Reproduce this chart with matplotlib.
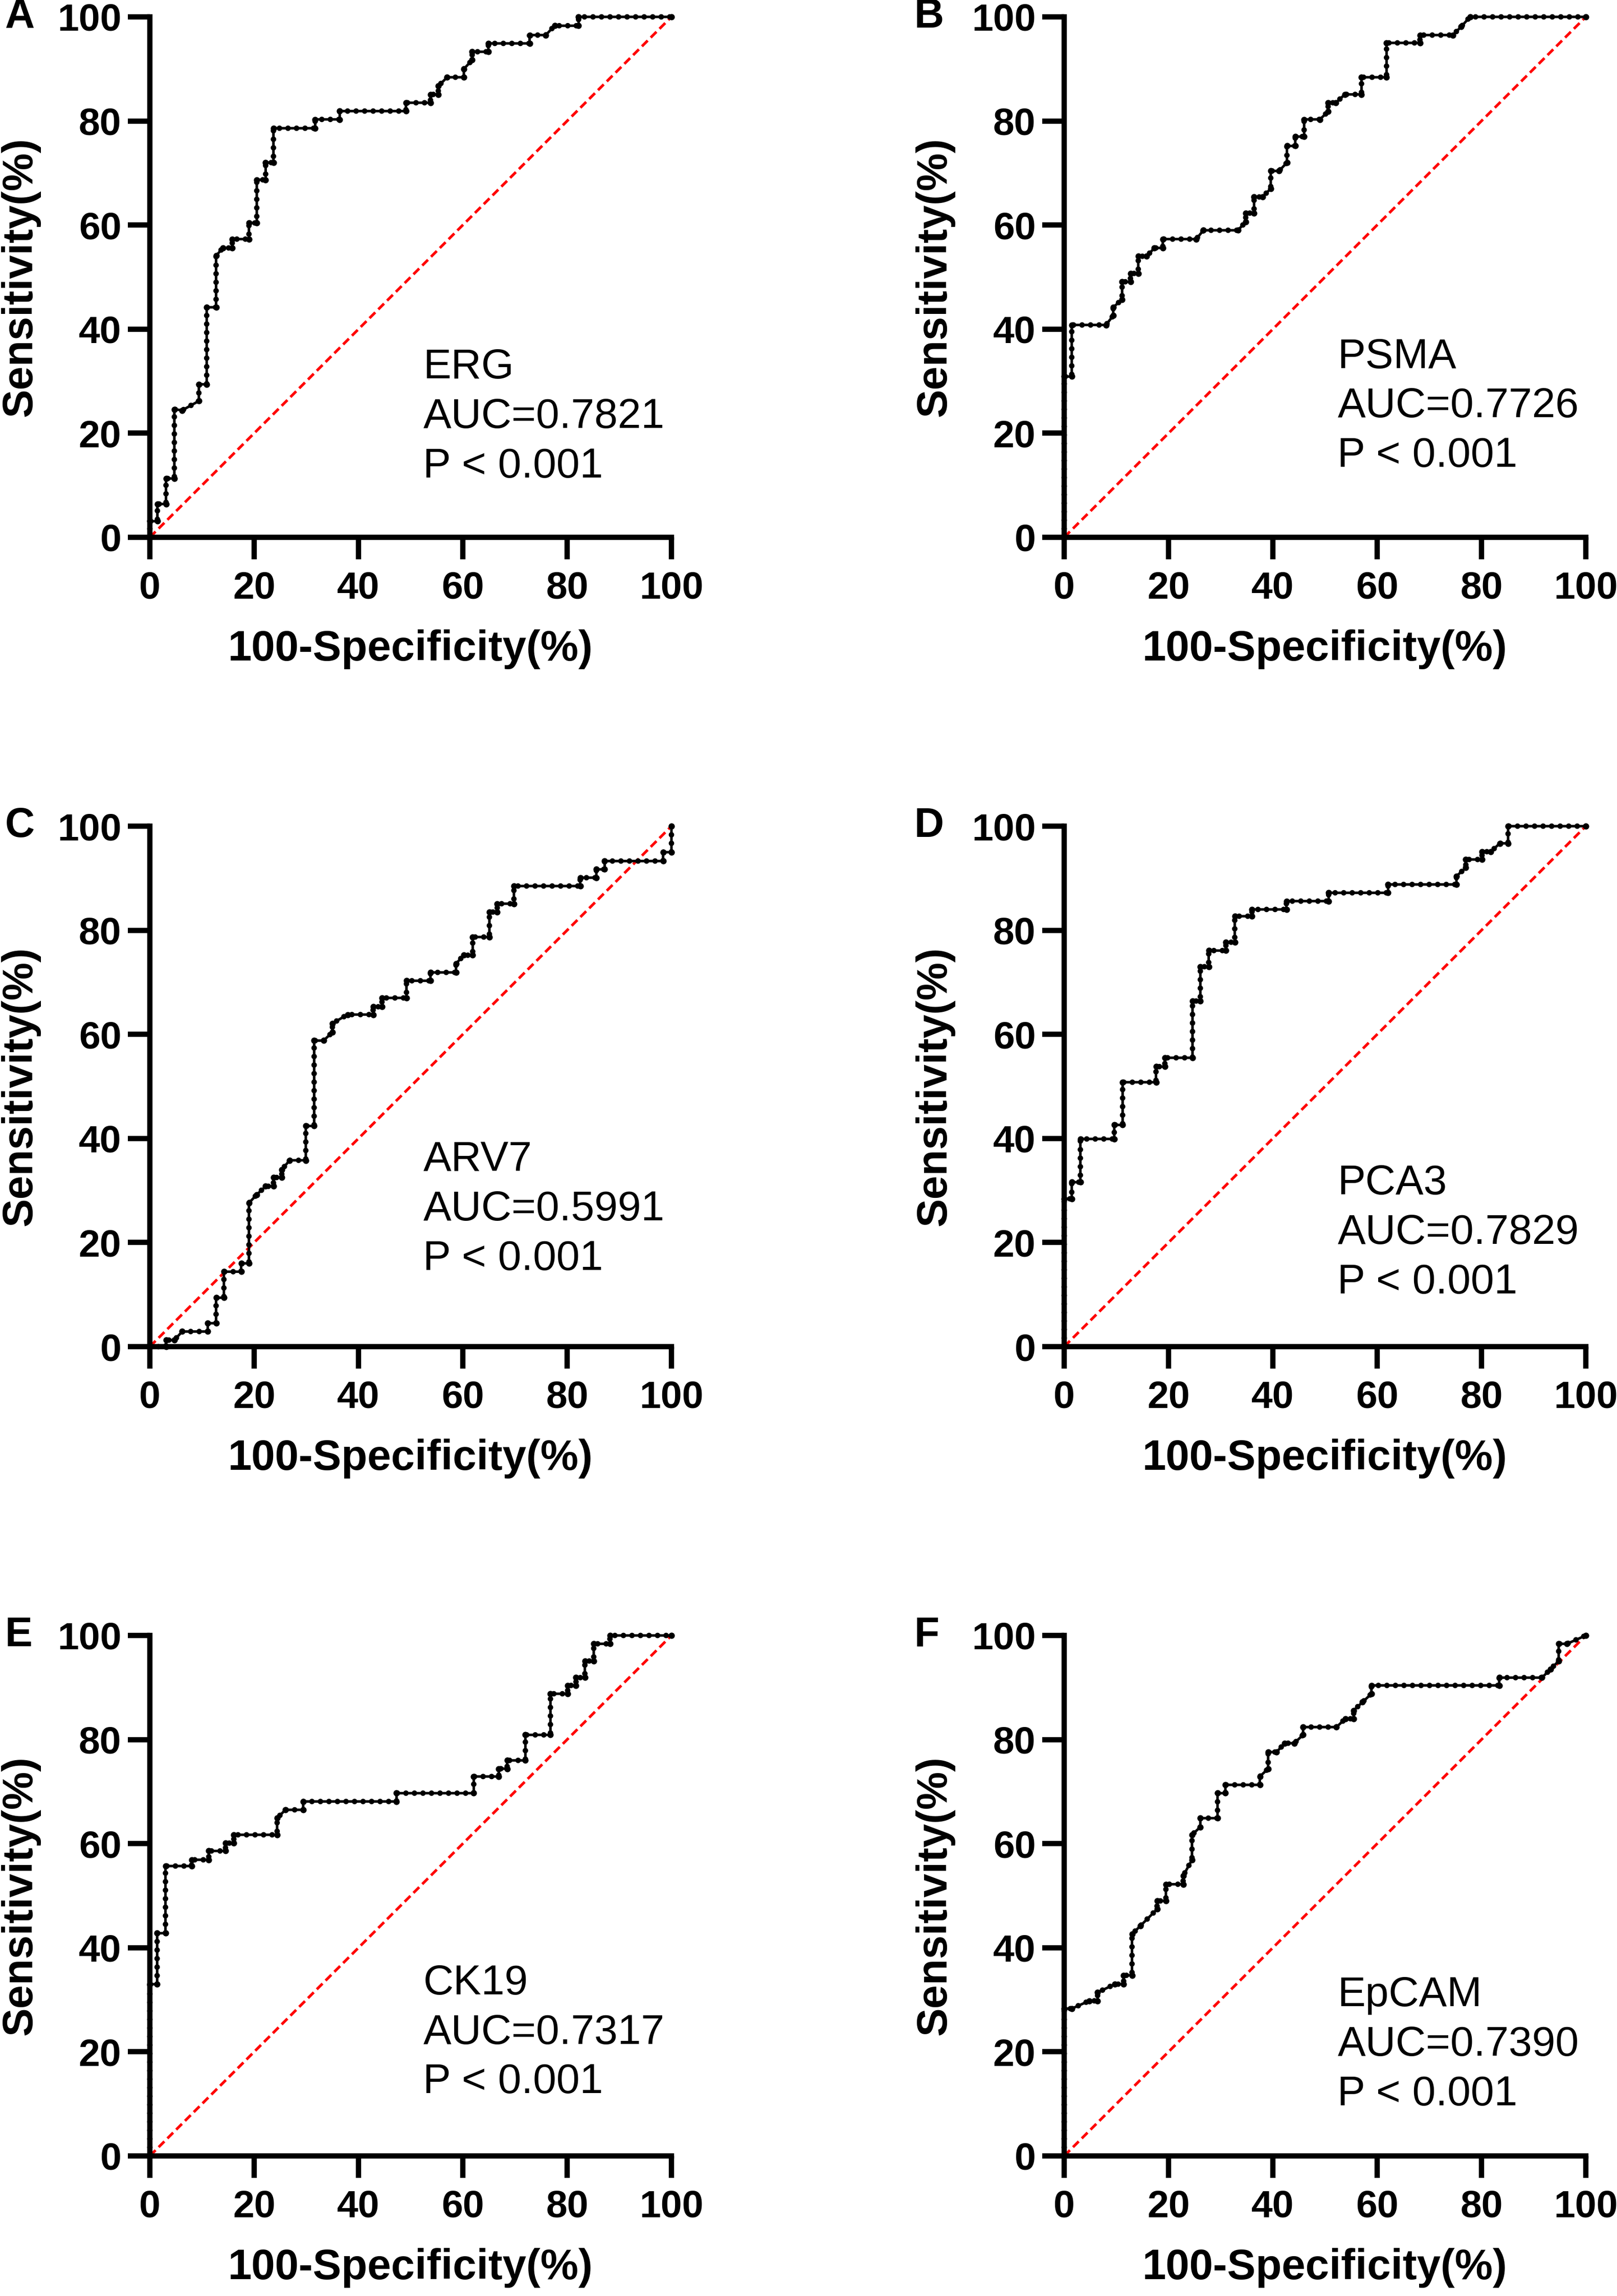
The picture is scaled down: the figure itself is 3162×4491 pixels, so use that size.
"""Six ROC curves (ERG, PSMA, ARV7, PCA3, CK19, EpCAM) in a 3x2 grid."""
import matplotlib

matplotlib.use("Agg")
import matplotlib.pyplot as plt

plt.rcParams["font.family"] = ["Liberation Sans", "DejaVu Sans"]

# --- data (percent) ---------------------------------------------------------
ERG_FPR = [0, 0, 1.45, 1.45, 3.1, 3.1, 4.7, 4.7, 6.2, 9.4, 9.4, 10.9, 10.9, 12.7, 12.7,
           14.0, 15.8, 15.8, 19.0, 19.0, 20.5, 20.5, 22.2, 22.2, 23.7, 23.7, 31.7, 31.7,
           36.4, 36.4, 49.1, 49.1, 53.8, 53.8, 55.3, 55.3, 57.0, 60.2, 60.2, 61.8, 61.8,
           64.9, 64.9, 72.8, 72.8, 75.9, 77.6, 82.2, 82.2, 100]
ERG_TPR = [0, 3.1, 3.1, 6.4, 6.4, 11.3, 11.3, 24.6, 24.4, 26.2, 29.4, 29.4, 44.2, 44.2, 54.1,
           55.6, 55.6, 57.3, 57.3, 60.4, 60.4, 68.7, 68.7, 72.0, 72.0, 78.6, 78.6, 80.3,
           80.3, 81.9, 81.9, 83.5, 83.5, 85.1, 85.1, 86.7, 88.4, 88.4, 90.0, 91.7, 93.3,
           93.3, 94.9, 94.9, 96.5, 96.5, 98.3, 98.3, 100, 100]

PSMA_FPR = [0, 0, 1.45, 1.45, 8.0, 9.4, 9.4, 11.1, 11.1, 12.7, 12.7, 14.2, 14.2, 15.8, 17.3,
            18.9, 18.9, 25.3, 26.7, 33.3, 34.8, 34.8, 36.4, 36.4, 38.0, 39.6, 39.6, 41.2,
            42.7, 42.7, 44.3, 44.3, 46.0, 46.0, 49.0, 50.6, 50.6, 52.1, 53.8, 57.0, 57.0,
            61.8, 61.8, 68.2, 68.2, 74.5, 76.1, 77.8, 100]
PSMA_TPR = [0, 30.9, 30.9, 40.8, 40.8, 42.6, 44.2, 45.7, 49.1, 49.1, 50.7, 50.7, 54.0, 54.0,
            55.6, 55.6, 57.3, 57.3, 59.0, 59.0, 60.6, 62.3, 62.3, 65.4, 65.4, 67.0, 70.4,
            70.4, 72.0, 75.2, 75.2, 77.0, 77.0, 80.3, 80.3, 81.8, 83.5, 83.5, 85.1, 85.1,
            88.4, 88.4, 95.0, 95.0, 96.5, 96.5, 98.1, 100, 100]

ARV7_FPR = [0, 3.1, 3.1, 4.7, 6.2, 11.1, 11.1, 12.7, 12.7, 14.2, 14.2, 17.5, 17.5, 19.0,
            19.0, 20.5, 22.2, 23.7, 23.7, 25.3, 25.3, 26.8, 29.9, 29.9, 31.5, 31.5, 33.3,
            35.0, 35.0, 37.9, 42.8, 42.8, 44.5, 44.5, 49.2, 49.2, 53.8, 53.8, 58.7, 58.7,
            60.2, 61.9, 61.9, 65.1, 65.1, 66.6, 66.6, 69.8, 69.8, 82.5, 82.5, 85.6, 85.6,
            87.2, 87.2, 98.4, 98.4, 100, 100]
ARV7_TPR = [0, 0, 1.25, 1.25, 2.9, 2.9, 4.5, 4.5, 9.4, 9.4, 14.4, 14.4, 16.0, 16.0, 27.6,
            29.2, 30.8, 30.8, 32.5, 32.5, 34.0, 35.8, 35.8, 42.4, 42.4, 58.8, 58.8, 60.4,
            62.1, 63.8, 63.8, 65.3, 65.3, 67.0, 67.0, 70.3, 70.3, 71.9, 71.9, 73.6, 75.2,
            75.2, 78.7, 78.7, 83.5, 83.5, 85.1, 85.1, 88.5, 88.5, 90.1, 90.1, 91.7, 91.7,
            93.3, 93.3, 95.0, 95.0, 100]

PCA3_FPR = [0, 0, 1.45, 1.45, 3.1, 3.1, 9.6, 9.6, 11.2, 11.2, 17.6, 17.6, 19.3, 19.3, 24.6,
            24.6, 26.1, 26.1, 27.7, 27.7, 31.0, 31.0, 32.7, 32.7, 36.0, 36.0, 42.6, 42.6,
            50.7, 50.7, 62.1, 62.1, 75.2, 75.2, 77.0, 77.0, 80.1, 80.1, 81.8, 83.5, 85.1,
            85.1, 100]
PCA3_TPR = [0, 28.4, 28.4, 31.6, 31.6, 39.9, 39.9, 42.6, 42.6, 50.8, 50.8, 53.8, 53.8, 55.5,
            55.5, 66.4, 66.4, 73.0, 73.0, 76.1, 76.1, 77.7, 77.7, 82.7, 82.7, 84.0, 84.0,
            85.6, 85.6, 87.2, 87.2, 88.8, 88.8, 90.4, 92.0, 93.6, 93.6, 95.1, 95.1, 96.7,
            96.7, 100, 100]

CK19_FPR = [0, 0, 1.4, 1.4, 3.0, 3.0, 8.0, 8.0, 11.3, 11.3, 14.5, 14.5, 16.1, 16.1, 24.4,
            24.4, 26.0, 29.4, 29.4, 47.3, 47.3, 62.1, 62.1, 66.9, 66.9, 68.5, 68.5, 72.0,
            72.0, 76.8, 76.8, 80.1, 80.1, 81.7, 81.7, 83.4, 83.4, 85.1, 85.1, 88.2, 88.2,
            100]
CK19_TPR = [0, 33.0, 33.0, 42.8, 42.8, 55.7, 55.7, 56.9, 56.9, 58.6, 58.6, 60.1, 60.1, 61.7,
            61.7, 64.9, 66.5, 66.5, 68.1, 68.1, 69.7, 69.7, 72.9, 72.9, 74.4, 74.4, 76.0,
            76.0, 80.9, 80.9, 88.8, 88.8, 90.4, 90.4, 91.9, 91.9, 95.1, 95.1, 98.4, 98.4,
            100, 100]

EPCAM_FPR = [0, 0, 1.45, 4.8, 6.4, 6.4, 9.7, 11.4, 11.4, 13.0, 13.0, 14.6, 17.8, 17.8, 19.5,
             19.5, 22.8, 22.8, 24.5, 24.5, 26.1, 26.1, 29.4, 29.4, 30.9, 30.9, 37.5, 37.5,
             39.1, 39.1, 40.7, 42.3, 44.1, 45.8, 45.8, 52.2, 53.9, 55.5, 55.5, 57.2, 58.9,
             58.9, 83.4, 83.4, 91.6, 93.2, 94.8, 94.8, 96.4, 100]
EPCAM_TPR = [0, 28.3, 28.3, 29.8, 29.8, 31.4, 33.0, 33.0, 34.7, 34.7, 42.6, 44.2, 47.4, 49.0,
             49.0, 52.2, 52.2, 53.8, 56.9, 61.7, 63.2, 64.9, 64.9, 69.7, 69.7, 71.3, 71.3,
             72.9, 74.4, 77.6, 77.6, 79.3, 79.3, 80.9, 82.4, 82.4, 84.0, 84.0, 85.6, 87.2,
             88.8, 90.4, 90.4, 91.9, 91.9, 93.5, 95.1, 98.4, 98.4, 100]

PANEL_LETTERS = ["A", "B", "C", "D", "E", "F"]
MARKERS = ["ERG", "PSMA", "ARV7", "PCA3", "CK19", "EpCAM"]
AUC_VALUES = ["0.7821", "0.7726", "0.5991", "0.7829", "0.7317", "0.7390"]
P_TEXT = ["P < 0.001"] * 6
CURVES = [(ERG_FPR, ERG_TPR), (PSMA_FPR, PSMA_TPR), (ARV7_FPR, ARV7_TPR),
          (PCA3_FPR, PCA3_TPR), (CK19_FPR, CK19_TPR), (EPCAM_FPR, EPCAM_TPR)]
TICKS = [0, 20, 40, 60, 80, 100]

# --- layout (figure pixels -> fractions) ------------------------------------
W, H = 3162, 4491
COL_X = [293, 2081]          # left edge of axes (px)
ROW_TOP = [33, 1616, 3199]   # top of axes (px)
AX_W, AX_H = 1020, 1018
LETTER_X = [10, 1788]
TEXT_TOP = [32.6, 34.6, 35.8, 31.3, 33.1, 30.8]   # y of first annotation line (data units)
LINE_STEP = 9.5

BEAD_LW = 7.8                 # dot diameter (pt) of the beaded overlay
BEAD_GAP = 12.0 / BEAD_LW     # centre spacing of the dots, in linewidths

fig = plt.figure(figsize=(W / 100, H / 100), dpi=100)

for i, (fpr, tpr) in enumerate(CURVES):
    r, c = divmod(i, 2)
    left = COL_X[c] / W
    bottom = 1 - (ROW_TOP[r] + AX_H) / H
    ax = fig.add_axes([left, bottom, AX_W / W, AX_H / H])

    # chance line
    ax.plot([0, 100], [0, 100], color="#ff0000", lw=3.8, ls="--", dashes=(3.0, 1.6), zorder=2)
    # ROC curve: solid line, a dotted "bead" overlay, and the corner points
    ax.plot(fpr, tpr, color="black", lw=3.6, clip_on=False, zorder=3,
            solid_joinstyle="miter")
    ax.plot(fpr, tpr, color="black", lw=BEAD_LW, ls=(0, (0.001, BEAD_GAP)),
            dash_capstyle="round", clip_on=False, zorder=3)
    ax.plot(fpr, tpr, ls="none", color="black", marker="o", ms=7.8, clip_on=False, zorder=3)

    ax.set_xlim(0, 100); ax.set_ylim(0, 100)
    ax.set_xticks(TICKS); ax.set_yticks(TICKS)
    ax.set_xticklabels([str(t) for t in TICKS]); ax.set_yticklabels([str(t) for t in TICKS])
    for s in ("top", "right"):
        ax.spines[s].set_visible(False)
    for s in ("left", "bottom"):
        ax.spines[s].set_linewidth(7.5)
        ax.spines[s].set_capstyle("projecting")
    ax.tick_params(axis="both", direction="out", length=31, width=7.5, labelsize=54)
    ax.tick_params(axis="x", pad=16)
    ax.tick_params(axis="y", pad=9)
    for lab in ax.get_xticklabels() + ax.get_yticklabels():
        lab.set_fontweight("bold")

    ax.text(0.5, -0.215, "100-Specificity(%)", transform=ax.transAxes, ha="center",
            va="center", fontsize=60, fontweight="bold")
    ax.text(-0.248, 0.5, "Sensitivity(%)", transform=ax.transAxes, ha="center",
            va="center", rotation=90, fontsize=60, fontweight="bold")

    y0 = TEXT_TOP[i]
    ax.text(52.4, y0, MARKERS[i], ha="left", va="center", fontsize=59)
    ax.text(52.4, y0 - LINE_STEP, "AUC=" + AUC_VALUES[i], ha="left", va="center", fontsize=59)
    ax.text(52.4, y0 - 2 * LINE_STEP, P_TEXT[i], ha="left", va="center", fontsize=59)

    fig.text(LETTER_X[c] / W, 1 - ROW_TOP[r] / H, PANEL_LETTERS[i], ha="left", va="center",
             fontsize=58, fontweight="bold")

fig.savefig("out.png", dpi=100)
